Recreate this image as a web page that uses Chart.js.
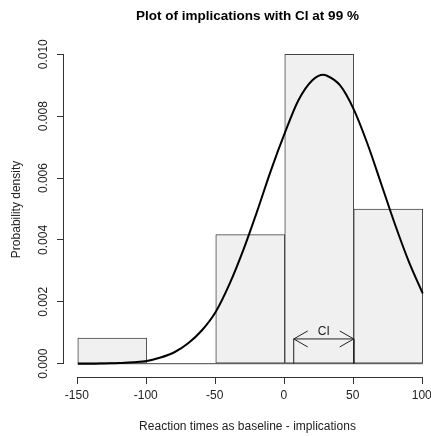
<!DOCTYPE html>
<html>
<head>
<meta charset="utf-8">
<script src="https://cdn.jsdelivr.net/npm/chart.js@4"></script>
<style>
  body { margin: 0; background: #fff; }
</style>
</head>
<body>
<canvas id="histChart" width="431" height="436"></canvas>
<script>
// histogram bins (centre of each 50-wide bin) and their densities
const binCenters = [-125, -75, -25, 25, 75];
const binWidth = 50;
const densities = [0.00083, 0, 0.00417, 0.0100, 0.0050];

// fitted density curve
const curveX = [-150, -140, -130, -120, -110, -100, -90, -80, -70, -60, -50, -40, -30, -20, -10, 0, 10, 20, 28, 30, 40, 50, 60, 70, 80, 90, 100];
const curveY = [0.00000, 0.00000, 0.00001, 0.00002, 0.00005, 0.00009, 0.00020, 0.00037, 0.00066, 0.00108, 0.00168, 0.00258, 0.00368, 0.00493, 0.00625, 0.00745, 0.00852, 0.00916, 0.00934, 0.00932, 0.00900, 0.00822, 0.00710, 0.00580, 0.00449, 0.00329, 0.00227];

// confidence interval bracket
const ciLow = 6.5;
const ciHigh = 50;
const ciHeight = 0.0008;
const ciLabel = "CI";

// axis ticks
const xTicks = [-150, -100, -50, 0, 50, 100];
const yTicks = [0, 0.002, 0.004, 0.006, 0.008, 0.010];

const ink = "#222";
const fontFamily = "'Liberation Sans', Arial, sans-serif";

// R style detached axis lines + CI arrow heads
const rStuff = {
    id: "rStuff",
    afterDraw(chart) {
        const ctx = chart.ctx;
        const xs = chart.scales.x, ys = chart.scales.y;
        const area = chart.chartArea;
        ctx.save();
        ctx.strokeStyle = "#333";
        ctx.lineWidth = 1;
        ctx.beginPath();
        ctx.moveTo(xs.getPixelForValue(xTicks[0]), Math.round(area.bottom) + 0.5);
        ctx.lineTo(xs.getPixelForValue(xTicks[xTicks.length - 1]), Math.round(area.bottom) + 0.5);
        ctx.moveTo(Math.round(area.left) - 0.5, ys.getPixelForValue(yTicks[0]));
        ctx.lineTo(Math.round(area.left) - 0.5, ys.getPixelForValue(yTicks[yTicks.length - 1]));
        ctx.stroke();

        // arrow heads of the CI bracket
        const xl = xs.getPixelForValue(ciLow), xr = xs.getPixelForValue(ciHigh);
        const yc = ys.getPixelForValue(ciHeight);
        ctx.strokeStyle = ink;
        ctx.beginPath();
        ctx.moveTo(xl + 14, yc - 8); ctx.lineTo(xl, yc); ctx.lineTo(xl + 14, yc + 8);
        ctx.moveTo(xr - 14, yc - 8); ctx.lineTo(xr, yc); ctx.lineTo(xr - 14, yc + 8);
        ctx.stroke();
        ctx.fillStyle = ink;
        ctx.font = "12px " + fontFamily;
        ctx.textAlign = "center";
        ctx.textBaseline = "middle";
        ctx.fillText(ciLabel, (xl + xr) / 2, yc - 7);
        ctx.restore();
    }
};

new Chart(document.getElementById("histChart"), {
    data: {
        datasets: [
            {
                type: "line",
                data: curveX.map((x, i) => ({ x: x, y: curveY[i] })),
                borderColor: "#000",
                borderWidth: 2,
                pointRadius: 0,
                cubicInterpolationMode: "monotone",
                order: 0
            },
            {
                type: "line",
                data: [
                    { x: ciLow, y: 0 },
                    { x: ciLow, y: ciHeight },
                    { x: ciHigh, y: ciHeight },
                    { x: ciHigh, y: 0 }
                ],
                borderColor: ink,
                borderWidth: 1,
                pointRadius: 0,
                tension: 0,
                order: 1
            },
            {
                type: "line",
                data: [
                    { x: binCenters[0] - binWidth / 2, y: 0 },
                    { x: binCenters[binCenters.length - 1] + binWidth / 2, y: 0 }
                ],
                borderColor: "#444",
                borderWidth: 1,
                pointRadius: 0,
                order: 2
            },
            {
                type: "bar",
                data: binCenters.map((x, i) => ({ x: x, y: densities[i] })),
                backgroundColor: "#f0f0f0",
                borderColor: "#444",
                borderWidth: 1,
                borderSkipped: false,
                barPercentage: 1,
                categoryPercentage: 1,
                order: 3
            }
        ]
    },
    options: {
        responsive: false,
        animation: false,
        layout: { padding: 0 },
        scales: {
            x: {
                type: "linear",
                offset: false,
                min: -160,
                max: 106,
                afterBuildTicks: (s) => { s.ticks = xTicks.map(v => ({ value: v })); },
                afterFit: (s) => { s.height = 59; s.paddingLeft = 0; s.paddingRight = 0; },
                grid: { offset: false, drawOnChartArea: false, drawTicks: true, tickLength: 7, color: "#333" },
                border: { display: false },
                ticks: { padding: 4, labelOffset: -1, color: ink, font: { family: fontFamily, size: 12 } },
                title: {
                    display: true,
                    text: "Reaction times as baseline - implications",
                    color: ink,
                    font: { family: fontFamily, size: 12 },
                    padding: { top: 0, bottom: 2 }
                }
            },
            y: {
                type: "linear",
                min: -0.00043,
                max: 0.0104,
                afterBuildTicks: (s) => { s.ticks = yTicks.map(v => ({ value: v })); },
                afterFit: (s) => { s.width = 64; s.paddingTop = 0; s.paddingBottom = 0; },
                grid: { drawOnChartArea: false, drawTicks: true, tickLength: 7, color: "#333" },
                border: { display: false },
                ticks: {
                    padding: -2,
                    minRotation: 90,
                    maxRotation: 90,
                    crossAlign: "center",
                    color: ink,
                    font: { family: fontFamily, size: 12 },
                    callback: (v) => v.toFixed(3)
                },
                title: {
                    display: true,
                    text: "Probability density",
                    color: ink,
                    font: { family: fontFamily, size: 12 },
                    padding: { top: 9.5, bottom: 0 }
                }
            }
        },
        plugins: {
            legend: { display: false },
            tooltip: { enabled: false },
            title: {
                display: true,
                fullSize: false,
                text: "Plot of implications with CI at 99 %",
                color: "#000",
                font: { family: fontFamily, size: 13.5, weight: "bold" },
                padding: { top: 8.2, bottom: 17.5 }
            }
        }
    },
    plugins: [rStuff]
});
</script>
</body>
</html>
